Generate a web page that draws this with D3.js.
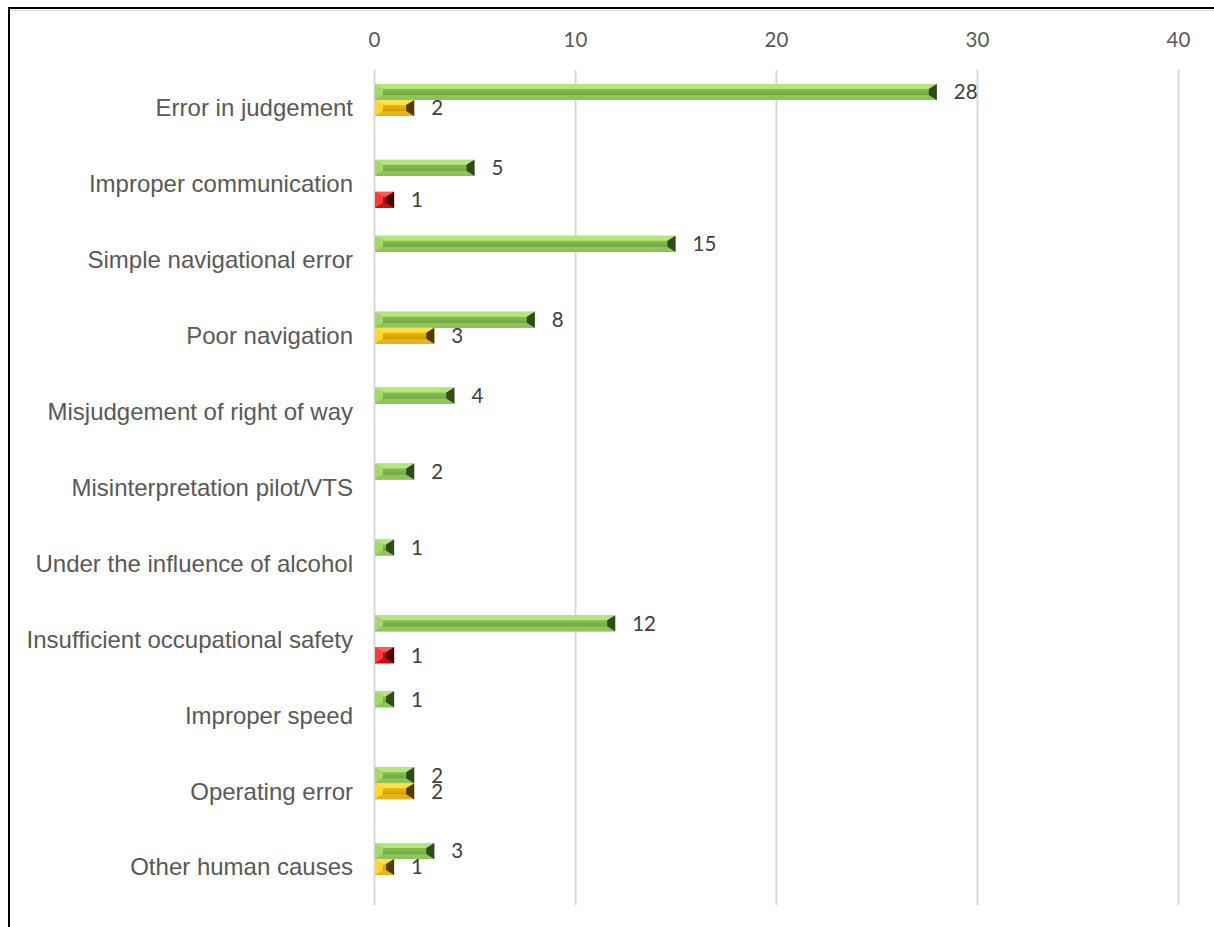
<!DOCTYPE html>
<html>
<head>
<meta charset="utf-8">
<script src="https://cdn.jsdelivr.net/npm/d3@7"></script>
<style>
  html, body { margin: 0; padding: 0; background: #fff; }
  svg { display: block; }
</style>
</head>
<body>
<svg id="chart" width="1214" height="927"></svg>
<script>
// Causes of accidents (human factors), counts per cause in three classes
const categories = [
  "Error in judgement",
  "Improper communication",
  "Simple navigational error",
  "Poor navigation",
  "Misjudgement of right of way",
  "Misinterpretation pilot/VTS",
  "Under the influence of alcohol",
  "Insufficient occupational safety",
  "Improper speed",
  "Operating error",
  "Other human causes"
];
const seriesGreen  = [28, 5, 15, 8, 4, 2, 1, 12, 1, 2, 3];
const seriesYellow = [2, null, null, 3, null, null, null, null, null, 2, 1];
const seriesRed    = [null, 1, null, null, null, null, null, 1, null, null, null];
const tickValues = [0, 10, 20, 30, 40];

const seriesKeys = ["green", "yellow", "red"];
const seriesData = { green: seriesGreen, yellow: seriesYellow, red: seriesRed };

// Bevel palettes for each series
const palette = {
  green:  { top: "#b3e67d", left: "#a3d96a", bodyTop: "#8fcb55", bodyMid: "#7fb84a", bodyBot: "#5f8c36", bottom: "#8fc45c", right: "#2f4a1b" },
  yellow: { top: "#ffe14d", left: "#ffd633", bodyTop: "#ffc800", bodyMid: "#e8b000", bodyBot: "#a67c00", bottom: "#e6b420", right: "#4f3b00" },
  red:    { top: "#ff5a5a", left: "#ff3a3a", bodyTop: "#ff1010", bodyMid: "#dd0000", bodyBot: "#960000", bottom: "#c81010", right: "#4a0000" }
};

const svg = d3.select("#chart");
const W = 1214, H = 927;
const plot = { left: 374, right: 1178, top: 70, bottom: 905 };

const x = d3.scaleLinear().domain([0, 40]).range([plot.left, plot.right]);
const y = d3.scaleBand().domain(categories).range([plot.top, plot.bottom]).paddingInner(0).paddingOuter(0);
const barH = 16;
const sub = d3.scaleBand().domain(seriesKeys).range([0, barH * 3]);

// Frame lines
svg.append("line").attr("x1", 8).attr("x2", W).attr("y1", 8).attr("y2", 8)
  .attr("stroke", "#000").attr("stroke-width", 2);
svg.append("line").attr("x1", 10).attr("x2", W).attr("y1", 10.5).attr("y2", 10.5)
  .attr("stroke", "#d9d9d9").attr("stroke-width", 1);
svg.append("line").attr("x1", 9).attr("x2", 9).attr("y1", 7).attr("y2", H)
  .attr("stroke", "#000").attr("stroke-width", 2);

// Vertical gridlines
svg.append("g").selectAll("line").data(tickValues).join("line")
  .attr("x1", d => x(d) + 0.5).attr("x2", d => x(d) + 0.5)
  .attr("y1", plot.top).attr("y2", plot.bottom)
  .attr("stroke", "#d9d9d9").attr("stroke-width", 2);

// Top axis labels
const axis = d3.axisTop(x).tickValues(tickValues).tickSize(0).tickPadding(0);
const axisG = svg.append("g").attr("transform", `translate(0, 47)`).call(axis);
axisG.select(".domain").remove();
axisG.selectAll("text")
  .attr("font-family", "Lato, 'Open Sans', sans-serif")
  .attr("font-size", 20.5)
  .attr("fill", "#595959")
  .attr("dy", 0);

// Category labels
svg.append("g").selectAll("text").data(categories).join("text")
  .attr("x", 353)
  .attr("y", d => y(d) + y.bandwidth() / 2)
  .attr("dy", "0.35em")
  .attr("text-anchor", "end")
  .attr("font-family", "'Liberation Sans', Arial, sans-serif")
  .attr("font-size", 24)
  .attr("fill", "#595959")
  .text(d => d);

// Gradients for bar bodies
const defs = svg.append("defs");
seriesKeys.forEach(k => {
  const p = palette[k];
  const g = defs.append("linearGradient").attr("id", "body-" + k)
    .attr("x1", 0).attr("y1", 0).attr("x2", 0).attr("y2", 1);
  g.append("stop").attr("offset", "0%").attr("stop-color", p.bodyTop);
  g.append("stop").attr("offset", "45%").attr("stop-color", p.bodyMid);
  g.append("stop").attr("offset", "100%").attr("stop-color", p.bodyBot);
});

// Bar records
const bars = [];
categories.forEach((c, i) => {
  seriesKeys.forEach(k => {
    const v = seriesData[k][i];
    if (v != null) bars.push({ cat: c, key: k, value: v });
  });
});

const groupOffset = (y.bandwidth() - barH * 3) / 2;

const barG = svg.append("g").selectAll("g").data(bars).join("g")
  .attr("class", "bar");

barG.each(function(d) {
  const g = d3.select(this);
  const p = palette[d.key];
  const x0 = x(0) + 1, x1 = x(d.value);
  const y0 = y(d.cat) + groupOffset + sub(d.key), y1 = y0 + barH;
  const w = x1 - x0;
  const dx = Math.min(8, w / 2), dy = 5;
  const pt = a => a.map(q => q.join(",")).join(" ");
  // body
  g.append("rect").attr("x", x0).attr("y", y0).attr("width", w).attr("height", barH)
    .attr("fill", `url(#body-${d.key})`);
  // top bevel
  g.append("polygon").attr("points", pt([[x0, y0], [x1, y0], [x1 - dx, y0 + dy], [x0 + dx, y0 + dy]]))
    .attr("fill", p.top);
  // bottom bevel
  g.append("polygon").attr("points", pt([[x0, y1], [x1, y1], [x1 - dx, y1 - dy], [x0 + dx, y1 - dy]]))
    .attr("fill", p.bottom);
  // left bevel
  g.append("polygon").attr("points", pt([[x0, y0], [x0 + dx, y0 + dy], [x0 + dx, y1 - dy], [x0, y1]]))
    .attr("fill", p.left);
  // right bevel
  g.append("polygon").attr("points", pt([[x1, y0], [x1 - dx, y0 + dy], [x1 - dx, y1 - dy], [x1, y1]]))
    .attr("fill", p.right);
});

// Value labels
svg.append("g").selectAll("text").data(bars).join("text")
  .attr("x", d => x(d.value) + 17)
  .attr("y", d => y(d.cat) + groupOffset + sub(d.key) + barH / 2)
  .attr("dy", "0.36em")
  .attr("font-family", "Lato, 'Open Sans', sans-serif")
  .attr("font-size", 20.5)
  .attr("fill", "#404040")
  .text(d => d.value);
</script>
</body>
</html>
